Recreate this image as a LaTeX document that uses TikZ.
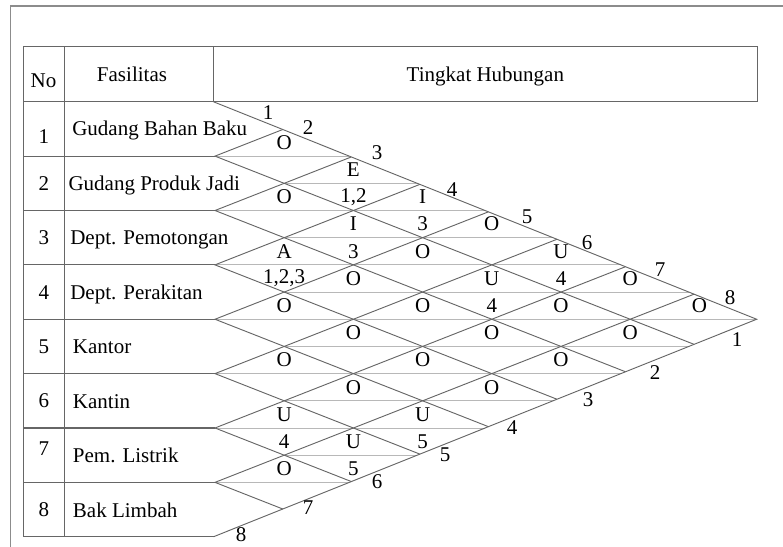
\documentclass[tikz,border=0pt]{standalone}
\usepackage{fontspec}
\setmainfont{Liberation Serif}

\begin{document}
\begin{tikzpicture}[x=0.75pt, y=-0.75pt, font=\fontsize{15.75}{18}\selectfont,
    frame/.style={draw=black!45, line width=0.8pt},
    rule/.style={draw=black!60, line width=0.8pt},
    slant/.style={draw=black!60, line width=0.7pt},
    split/.style={draw=black!28, line width=0.6pt},
    lbl/.style={inner sep=0pt},
    txt/.style={inner sep=0pt, anchor=base west}]
      \useasboundingbox (0,0) rectangle (783,547);

      %% frame
      \draw[frame] (10.7,547) -- (10.7,6) -- (783,6);

      %% table
      \draw[rule] (23.3,46.7) rectangle (757.3,101.75);
      \draw[rule] (64.3,46.7) -- (64.3,536.75);
      \draw[rule] (213.5,46.7) -- (213.5,101.75);
      \draw[rule] (23.3,101.75) -- (23.3,536.75) -- (213.5,536.75);
      \foreach \r in {1,...,7}
        \draw[rule] (23.3,{101.75+54.375*\r}) -- (215,{101.75+54.375*\r});

      \node[lbl, anchor=base] (no) at (43.5,87) {No};
      \node[lbl, anchor=base] (fas) at (132,81) {Fasilitas};
      \node[lbl, anchor=base] (tkt) at (485.4,81) {Tingkat Hubungan};

      \foreach \r/\ny/\nm/\tx/\ty in {1/143.7/Gudang Bahan Baku/72/135.3,
          2/190.3/Gudang Produk Jadi/68.3/190.3, 3/244.7/Dept. Pemotongan/70/244.7,
          4/299.1/Dept. Perakitan/70/299.1, 5/353.4/Kantor/72.7/353.4,
          6/407.8/Kantin/72.7/408.7, 7/455.3/Pem. Listrik/72.7/462,
          8/516.6/Bak Limbah/72.7/517}{
        \node[lbl, anchor=base] (no\r) at (43.8,\ny) {\r};
        \node[txt] (fac\r) at (\tx,\ty) {\nm};
      }

      %% relationship chart
      \coordinate (tl) at (213.5,101.75);
      \coordinate (bl) at (213.5,536.75);
      \coordinate (tip) at (756.7,319.25);

      \begin{scope}[shift={(215,101.75)}, x={(51.9pt,0pt)}, y={(0pt,-20.39pt)}]
        \foreach \m in {2,...,14}{
          \pgfmathtruncatemacro{\s}{mod(\m,2)}
          \pgfmathsetmacro{\e}{(min(\m,16-\m)-0.0221)/1.01915}
          \draw[split] (\s,\m) -- (\e,\m);
        }
        \foreach \k in {1,...,7}{
          \pgfmathsetmacro{\dn}{(15.9779-2*\k)/2.01915}
          \pgfmathsetmacro{\upp}{(2*\k-0.0221)/2.01915}
          \draw[slant] (\dn,{2*\k+\dn}) -- (0,2*\k) -- (\upp,{2*\k-\upp});
        }

        \foreach \i/\j/\rel/\rsn in {1/2/O/{}, 1/3/E/{1,2}, 1/4/I/3, 1/5/O/{},
            1/6/U/4, 1/7/O/{}, 1/8/O/{}, 2/3/O/{}, 2/4/I/3, 2/5/O/{}, 2/6/U/4,
            2/7/O/{}, 2/8/O/{}, 3/4/A/{1,2,3}, 3/5/O/{}, 3/6/O/{}, 3/7/O/{},
            3/8/O/{}, 4/5/O/{}, 4/6/O/{}, 4/7/O/{}, 4/8/O/{}, 5/6/O/{},
            5/7/O/{}, 5/8/U/5, 6/7/U/4, 6/8/U/5, 7/8/O/{}}{
          \node[lbl] (rel\i\j) at ({\j-\i},{\i+\j-1.5}) {\rel};
          \node[lbl] (rsn\i\j) at ({\j-\i},{\i+\j-0.5}) {\rsn};
        }
      \end{scope}
      \draw[slant] (tl) -- (tip) -- (bl);

      \foreach \k/\x/\y in {1/268/113, 2/308/128, 3/377/153, 4/452/190,
          5/527/217, 6/587/243, 7/660/270, 8/730/298}
        \node[lbl] (up\k) at (\x,\y) {\k};
      \foreach \k/\x/\y in {8/241/535, 7/308/508, 6/377/482, 5/445/455,
          4/512/428, 3/588/400, 2/655/373, 1/737/340}
        \node[lbl] (dn\k) at (\x,\y) {\k};

    \end{tikzpicture}
\end{document}
